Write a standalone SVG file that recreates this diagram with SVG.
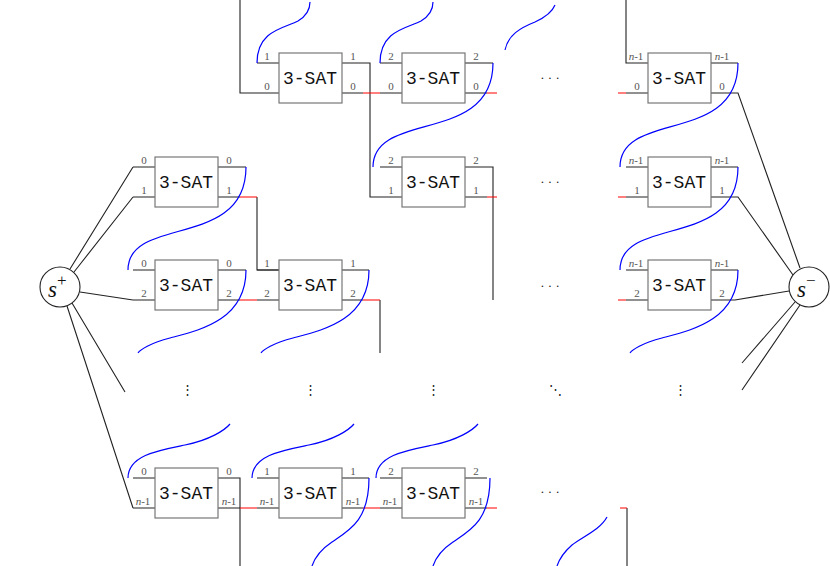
<svg xmlns="http://www.w3.org/2000/svg" width="830" height="566" viewBox="0 0 830 566">
<style>
.bx{fill:#fff;stroke:#777;stroke-width:1.2}
.t{font-family:"Liberation Mono",monospace;font-size:18px;text-anchor:middle;fill:#111}
.l{font-family:"Liberation Serif",serif;font-size:11px;text-anchor:middle;fill:#555}
.k{fill:none;stroke:#222;stroke-width:1.1}
.r{fill:none;stroke:#f00;stroke-width:1.2}
.b{fill:none;stroke:#00f;stroke-width:1.2}
.d{font-family:"Liberation Serif",serif;font-size:13px;text-anchor:middle;fill:#222}
.s{font-family:"Liberation Serif",serif;font-size:23px;font-style:italic;fill:#111}
</style>
<rect width="830" height="566" fill="#fff"/>
<g id="connectors">
<path class="k" d="M240,0V93H279 M279,63H257 M341,63H370V197H402 M341,93H363 M380,93H402 M380,63H402 M465,63H493 M465,93H487"/>
<path class="k" d="M626,0V63H648 M626,93H648 M710,63H738 M710,93H738L800,268"/>
<path class="k" d="M133,167H155 M133,197H155 M218,167H246 M218,197H240 M257,197V270H279 M380,167H402 M465,167H493V300 M465,197H487"/>
<path class="k" d="M626,167H648 M626,197H648 M710,167H738 M710,197H738L793,275"/>
<path class="k" d="M133,270H155 M133,300H155 M218,270H246 M218,300H240 M257,300H279 M257,270H279 M341,270H369 M341,300H363 M380,300V353"/>
<path class="k" d="M626,270H648 M626,300H648 M710,270H738 M710,300H735L789,291"/>
<path class="k" d="M133,167L70,269 M133,197L74,272 M133,300L80,292 M72,303L125,392 M67,306L133,508"/>
<path class="k" d="M795,302L742,363 M800,305L742,390"/>
<path class="k" d="M133,478H155 M133,508H155 M218,478H240V566 M218,508H240 M257,508H279 M257,478H279 M341,478H369 M341,508H363 M380,508H402 M380,478H402 M465,478H487 M465,508H487 M627,508V566"/>
<path class="r" d="M363,93H380 M487,93H497 M618,93H626 M240,197H257 M487,197H497 M618,197H626 M240,300H257 M363,300H380 M618,300H626 M240,508H257 M363,508H380 M487,508H497 M620,508H627"/>
<path class="b" d="M257,63C257,30 285,28 298,21C308,15 310,8 310,2"/>
<path class="b" d="M380,63C380,30 408,28 421,21C431,15 433,8 433,2"/>
<path class="b" d="M505,50C508,35 520,28 535,22C548,16 553,10 555,5"/>
<path class="b" d="M493,63C493,145 373,110 373,167"/>
<path class="b" d="M738,63C738,145 620,110 620,167"/>
<path class="b" d="M246,167C246,250 128,215 128,270"/>
<path class="b" d="M738,167C738,250 620,215 620,270"/>
<path class="b" d="M246,270C246,320 200,330 170,338C150,343 140,350 138,353"/>
<path class="b" d="M369,270C369,320 323,330 293,338C273,343 263,350 261,353"/>
<path class="b" d="M738,270C738,320 692,330 662,338C642,343 632,350 630,353"/>
<path class="b" d="M128,478C128,455 160,450 185,445C210,440 225,430 230,424"/>
<path class="b" d="M252,478C252,455 284,450 309,445C334,440 349,430 354,424"/>
<path class="b" d="M376,478C376,455 408,450 433,445C458,440 473,430 478,424"/>
<path class="b" d="M369,478C369,520 350,530 332,542C320,550 314,560 312,566"/>
<path class="b" d="M490,478C490,520 471,530 453,542C441,550 435,560 433,566"/>
<path class="b" d="M607,517C600,530 582,537 572,545C564,552 559,560 557,566"/>
</g>
<g id="A1"><rect class="bx" x="279" y="53" width="63" height="50"/><text class="t" x="310" y="84">3-SAT</text><text class="l" x="267" y="60">1</text><text class="l" x="267" y="90">0</text><text class="l" x="353" y="60">1</text><text class="l" x="353" y="90">0</text></g>
<g id="A2"><rect class="bx" x="402" y="53" width="63" height="50"/><text class="t" x="433" y="84">3-SAT</text><text class="l" x="391" y="60">2</text><text class="l" x="391" y="90">0</text><text class="l" x="476" y="60">2</text><text class="l" x="476" y="90">0</text></g>
<g id="A4"><rect class="bx" x="648" y="53" width="63" height="50"/><text class="t" x="679" y="84">3-SAT</text><text class="l" x="636" y="60"><tspan font-style="italic">n</tspan>-1</text><text class="l" x="637" y="90">0</text><text class="l" x="722" y="60"><tspan font-style="italic">n</tspan>-1</text><text class="l" x="722" y="90">0</text></g>
<g id="B1"><rect class="bx" x="155" y="157" width="63" height="50"/><text class="t" x="186" y="188">3-SAT</text><text class="l" x="144" y="164">0</text><text class="l" x="144" y="194">1</text><text class="l" x="229" y="164">0</text><text class="l" x="229" y="194">1</text></g>
<g id="B2"><rect class="bx" x="402" y="157" width="63" height="50"/><text class="t" x="433" y="188">3-SAT</text><text class="l" x="391" y="164">2</text><text class="l" x="391" y="194">1</text><text class="l" x="476" y="164">2</text><text class="l" x="476" y="194">1</text></g>
<g id="B4"><rect class="bx" x="648" y="157" width="63" height="50"/><text class="t" x="679" y="188">3-SAT</text><text class="l" x="636" y="164"><tspan font-style="italic">n</tspan>-1</text><text class="l" x="637" y="194">1</text><text class="l" x="722" y="164"><tspan font-style="italic">n</tspan>-1</text><text class="l" x="722" y="194">1</text></g>
<g id="C1"><rect class="bx" x="155" y="260" width="63" height="50"/><text class="t" x="186" y="291">3-SAT</text><text class="l" x="144" y="267">0</text><text class="l" x="144" y="297">2</text><text class="l" x="229" y="267">0</text><text class="l" x="229" y="297">2</text></g>
<g id="C2"><rect class="bx" x="279" y="260" width="63" height="50"/><text class="t" x="310" y="291">3-SAT</text><text class="l" x="267" y="267">1</text><text class="l" x="267" y="297">2</text><text class="l" x="353" y="267">1</text><text class="l" x="353" y="297">2</text></g>
<g id="C4"><rect class="bx" x="648" y="260" width="63" height="50"/><text class="t" x="679" y="291">3-SAT</text><text class="l" x="636" y="267"><tspan font-style="italic">n</tspan>-1</text><text class="l" x="637" y="297">2</text><text class="l" x="722" y="267"><tspan font-style="italic">n</tspan>-1</text><text class="l" x="722" y="297">2</text></g>
<g id="D1"><rect class="bx" x="155" y="468" width="63" height="50"/><text class="t" x="186" y="499">3-SAT</text><text class="l" x="144" y="475">0</text><text class="l" x="143" y="505"><tspan font-style="italic">n</tspan>-1</text><text class="l" x="229" y="475">0</text><text class="l" x="229" y="505"><tspan font-style="italic">n</tspan>-1</text></g>
<g id="D2"><rect class="bx" x="279" y="468" width="63" height="50"/><text class="t" x="310" y="499">3-SAT</text><text class="l" x="267" y="475">1</text><text class="l" x="267" y="505"><tspan font-style="italic">n</tspan>-1</text><text class="l" x="353" y="475">1</text><text class="l" x="353" y="505"><tspan font-style="italic">n</tspan>-1</text></g>
<g id="D3"><rect class="bx" x="402" y="468" width="63" height="50"/><text class="t" x="433" y="499">3-SAT</text><text class="l" x="391" y="475">2</text><text class="l" x="390" y="505"><tspan font-style="italic">n</tspan>-1</text><text class="l" x="476" y="475">2</text><text class="l" x="476" y="505"><tspan font-style="italic">n</tspan>-1</text></g>
<g id="splus"><circle cx="60" cy="287" r="20" fill="#fff" stroke="#222" stroke-width="1.1"/><text class="s" x="48" y="297">s<tspan font-size="17" font-style="normal" dy="-11">+</tspan></text></g>
<g id="sminus"><circle cx="809" cy="287" r="20" fill="#fff" stroke="#222" stroke-width="1.1"/><text class="s" x="797" y="297">s<tspan font-size="17" font-style="normal" dy="-11">−</tspan></text></g>
<g id="dots">
<text class="d" x="550" y="82">· · ·</text><text class="d" x="550" y="186">· · ·</text><text class="d" x="550" y="290">· · ·</text><text class="d" x="550" y="496">· · ·</text>
<text class="d" x="187" y="394">⋮</text><text class="d" x="310" y="394">⋮</text><text class="d" x="433" y="394">⋮</text><text class="d" x="555" y="394">⋱</text><text class="d" x="680" y="394">⋮</text>
</g>
</svg>
